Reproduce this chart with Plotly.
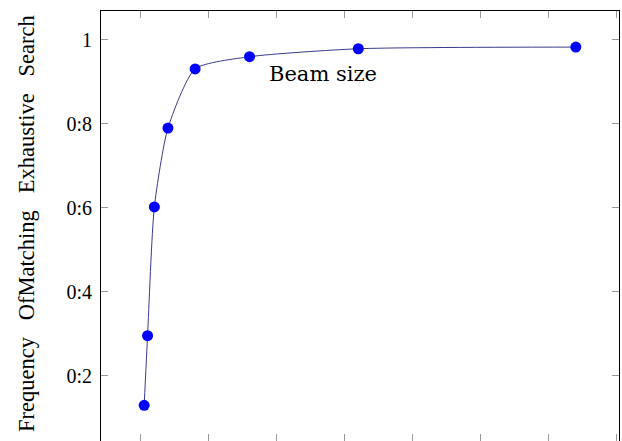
import plotly.graph_objects as go

beam_sizes = [1, 2, 4, 8, 16, 32, 64, 128]
frequency = [0.129, 0.295, 0.602, 0.790, 0.931, 0.960, 0.979, 0.983]
y_tick_vals = [0.2, 0.4, 0.6, 0.8, 1.0]
y_tick_text = ["0:2", "0:4", "0:6", "0:8", "1"]
x_tick_vals = [0, 20, 40, 60, 80, 100, 120, 140]

fig = go.Figure()
fig.add_trace(go.Scatter(
    x=beam_sizes, y=frequency, mode="lines+markers",
    line=dict(color="#3a3a8c", width=1, shape="spline", smoothing=0.6),
    marker=dict(color="#0000ff", size=11),
    showlegend=False,
))

nb = "\u00a0"
ytitle = (nb * 3).join(["Frequency", "OfMatching", "Exhaustive", "Search"])

fig.add_annotation(
    text="Beam size", x=53.7, y=0.919, xref="x", yref="y",
    showarrow=False, font=dict(family="DejaVu Serif", size=21, color="black"),
    xanchor="center", yanchor="middle",
)
fig.add_annotation(
    text=ytitle, x=0, y=0.5, xref="paper", yref="paper", xshift=-75, yshift=2,
    textangle=-90, showarrow=False,
    font=dict(family="Liberation Serif", size=22.5, color="black"),
    xanchor="center", yanchor="middle",
)

fig.update_layout(
    width=622, height=441,
    margin=dict(l=101, r=3, t=11, b=0),
    paper_bgcolor="white", plot_bgcolor="white",
    xaxis=dict(range=[-11.7, 140.7], tickvals=x_tick_vals, showticklabels=False,
               ticks="inside", ticklen=7, tickcolor="#999999",
               showline=True, linecolor="black", linewidth=1, mirror="allticks",
               showgrid=False, zeroline=False),
    yaxis=dict(range=[0.044, 1.069], tickvals=y_tick_vals, ticktext=y_tick_text,
               ticks="inside", ticklen=7, tickcolor="#999999",
               showline=True, linecolor="black", linewidth=1, mirror="allticks",
               showgrid=False, zeroline=False,
               tickfont=dict(family="Liberation Serif", size=20, color="black"),
               ticklabelstandoff=4),
)

fig.write_html("out.html", config={"displayModeBar": False},
               post_script="document.body.style.margin='0';")
